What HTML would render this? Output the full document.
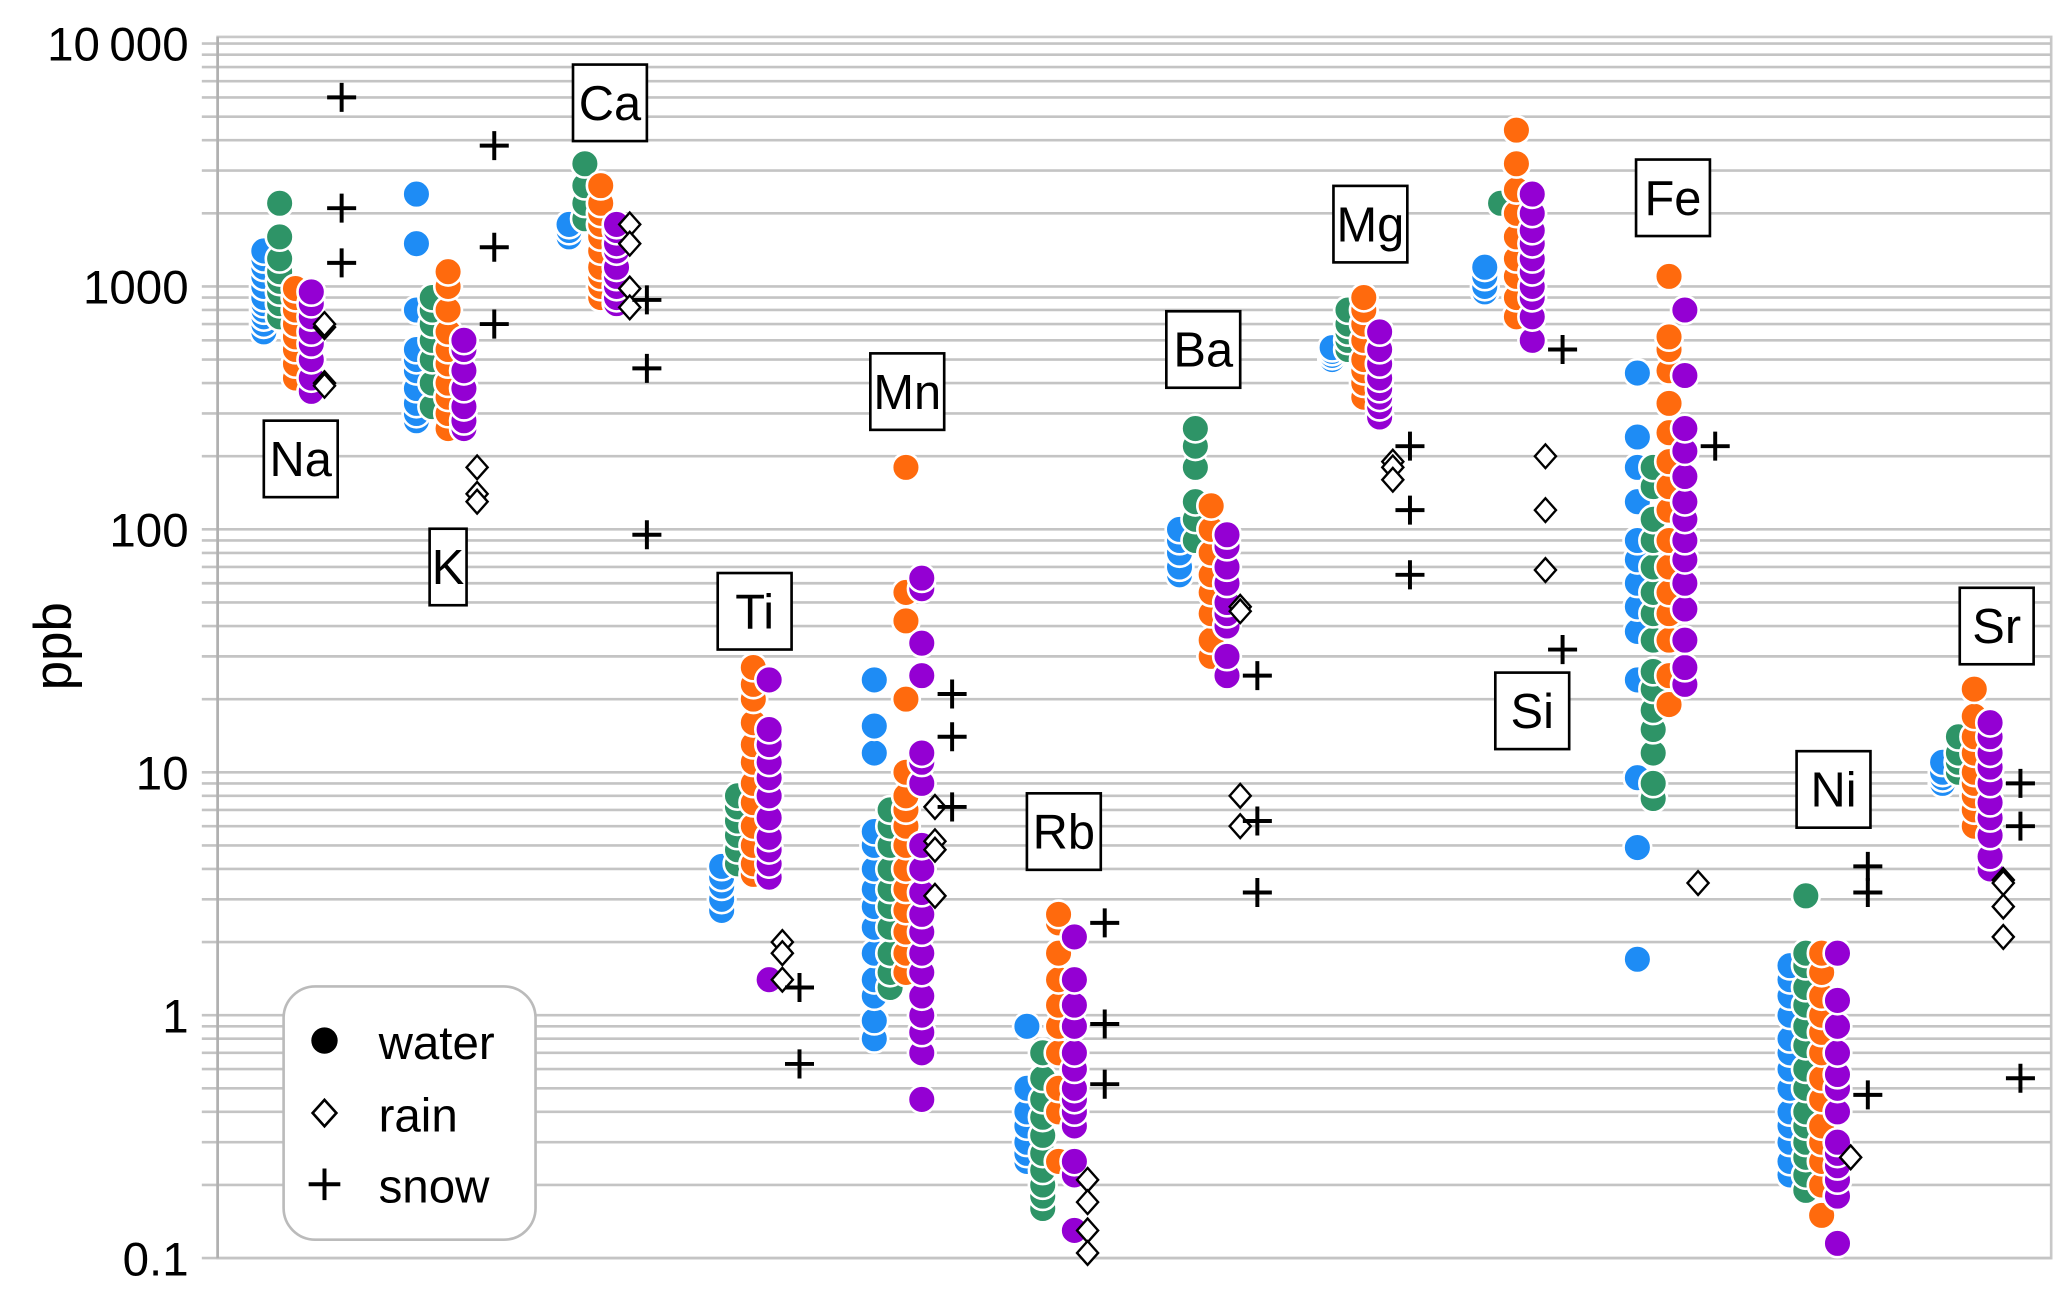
<!DOCTYPE html>
<html><head><meta charset="utf-8"><style>
html,body{margin:0;padding:0;background:#fff;}
svg{display:block;font-family:"Liberation Sans",sans-serif;}
</style></head><body>
<svg id="chart" width="2067" height="1299" viewBox="0 0 1567 985" preserveAspectRatio="none" xmlns="http://www.w3.org/2000/svg">
<g id="grid"></g>
<g id="ticks"></g>
<g id="marks"></g>
<g id="labels"></g>
<text x="0" y="0" transform="translate(54,490) rotate(-90)" font-size="40" text-anchor="middle">ppb</text>
<g>
<rect x="215" y="748" width="191" height="192" rx="24" fill="#fff" stroke="#bbb" stroke-width="2"/>
<circle cx="246" cy="789" r="10" fill="#000"/>
<text x="287" y="803" font-size="36">water</text>
<path d="M246 834 L255 844 L246 854 L237 844 Z" fill="#fff" stroke="#000" stroke-width="2"/>
<text x="287" y="858" font-size="36">rain</text>
<path d="M234 898 H258 M246 886 V910" stroke="#000" stroke-width="3"/>
<text x="287" y="912" font-size="36">snow</text>
</g>
</svg>
<script>
const elements = ["Na","K","Ca","Ti","Mn","Rb","Ba","Mg","Si","Fe","Ni","Sr"];
const blue = [
[650,700,750,800,850,900,1000,1100,1200,1300,1400],
[280,300,330,380,450,500,550,800,1500,2400],
[1600,1700,1800],
[2.7,3.0,3.4,3.7,4.1],
[0.8,0.95,1.2,1.4,1.8,2.3,2.8,3.3,4,5,5.7,12,15.5,24],
[0.25,0.27,0.3,0.35,0.4,0.5,0.9],
[65,70,80,90,100],
[500,520,540,560],
[950,1000,1100,1200],
[1.7,4.9,9.5,24,38,48,60,75,90,130,180,240,440],
[0.22,0.25,0.3,0.35,0.4,0.5,0.6,0.7,0.8,1,1.2,1.4,1.6],
[9,9.5,10,11]];
const green = [
[750,850,950,1050,1150,1300,1600,2200],
[320,400,500,600,700,800,900],
[1900,2200,2600,3200],
[4.2,4.8,5.5,6.3,7.2,8],
[1.3,1.5,1.8,2.3,2.8,3.3,4,5,6,7],
[0.16,0.18,0.2,0.23,0.27,0.32,0.38,0.45,0.55,0.7],
[90,110,130,180,220,260],
[550,600,650,700,800],
[2200],
[7.8,9,12,15,18,22,26,35,45,55,70,90,110,150,180],
[0.19,0.22,0.26,0.3,0.35,0.4,0.5,0.6,0.75,0.9,1.1,1.3,1.6,1.8,3.1],
[10,11,12,14]];
const orange = [
[420,480,550,620,700,800,900,980],
[260,300,350,400,480,550,650,800,1000,1150],
[900,1000,1100,1200,1400,1600,1800,2000,2200,2600],
[3.8,4.2,5,6,7.5,9,11,13,16,20,23,27],
[1.5,1.8,2.2,2.7,3.3,4,5,6,7,8,10,20,42,55,180],
[0.25,0.4,0.5,0.7,0.9,1.1,1.4,1.8,2.4,2.6],
[30,35,45,55,65,80,100,125],
[350,400,450,500,600,700,800,900],
[750,900,1100,1300,1600,2000,2500,3200,4400],
[19,25,35,45,55,70,90,120,150,190,250,330,450,550,620,1100],
[0.15,0.2,0.25,0.3,0.35,0.45,0.55,0.7,0.85,1,1.2,1.5,1.8],
[6,7,8,9,10,12,14,17,22]];
const purple = [
[370,420,500,580,650,750,850,950],
[260,280,320,380,450,550,600],
[850,900,1000,1100,1200,1400,1500,1700,1800],
[1.4,3.7,4.2,4.8,5.4,6.5,8,9.5,11,13,15,24],
[0.45,0.7,0.85,1.0,1.2,1.5,1.8,2.2,2.6,3.2,4,5,9,11,12,25,34,57,63],
[0.13,0.22,0.25,0.35,0.4,0.45,0.5,0.6,0.7,0.9,1.1,1.4,2.1],
[25,30,40,45,50,60,70,85,95],
[290,320,350,380,420,480,550,650],
[600,750,900,1000,1150,1300,1500,1700,2000,2400],
[23,27,35,47,60,75,90,110,130,165,210,260,430,800],
[0.115,0.18,0.21,0.24,0.27,0.3,0.4,0.5,0.57,0.7,0.9,1.15,1.8],
[4,4.5,5.5,6.5,7.5,9,10.5,12,14,16]];
const rain = [
[680,700,400,390],[180,140,130],[1800,1500,980,820],[2.0,1.8,1.4],[7.2,5.2,4.8,3.1],
[0.21,0.17,0.13,0.105],[48,46,8,6],[190,180,160],[200,120,68],[3.5],[0.26],[3.6,3.5,2.8,2.1]];
const snow = [
[6000,2100,1250],[3800,1450,700],[880,460,95],[1.3,0.63],[21,14,7.2],[2.4,0.92,0.52],
[25,6.3,3.2],[220,120,65],[550,32],[220],[4.1,3.2,0.47],[9,6,0.55]];
const labelValues = [195,70,5700,46,369,5.7,550,1805,17.9,2317,8.5,40];
const tickValues = [0.1,1,10,100,1000,10000];
const tickLabels = ["0.1","1","10","100","1000","10\u2009000"];
const labelDx = [28,24,31,25,25,28,18,29,36,27,33,41];

const NS="http://www.w3.org/2000/svg";
const y = v => 954 - (Math.log10(v)+1)*184.2;
const xg = i => 200 + i*115.7;
function mk(tag, attrs, parent){const e=document.createElementNS(NS,tag);for(const k in attrs)e.setAttribute(k,attrs[k]);parent.appendChild(e);return e;}
const grid=document.getElementById('grid'), ticks=document.getElementById('ticks'), marks=document.getElementById('marks'), labels=document.getElementById('labels');
mk('rect',{x:165,y:28,width:1390,height:926,fill:'none',stroke:'#c8c8c8','stroke-width':2},grid);
for(let d=-1; d<4; d++){
  for(let m=1;m<10;m++){
    const v=m*Math.pow(10,d);
    const l=mk('line',{x1:153,x2:1555,y1:y(v),y2:y(v),stroke:'#c4c4c4','stroke-width':2},grid);
    
    
  }
}
mk('line',{x1:153,x2:1555,y1:y(10000),y2:y(10000),stroke:'#c4c4c4','stroke-width':2},grid);
mk('line',{x1:165,x2:165,y1:28,y2:954,stroke:'#b0b0b0','stroke-width':2},grid);
tickValues.forEach((v,i)=>{
  const t=mk('text',{x:143,y:y(v)+13,'font-size':36,'text-anchor':'end'},ticks);
  t.textContent=tickLabels[i];
  
  
});
const series=[[blue,'#1e8cf5',0],[green,'#2e9467',12],[orange,'#ff6a0d',24],[purple,'#9400d3',36]];
elements.forEach((el,i)=>{
  const g=mk('g',{},marks);
  
  
  series.forEach(([arr,col,off])=>{
    arr[i].forEach(v=>{
      const c=mk('circle',{cx:xg(i)+off,cy:y(v),r:10.5,fill:col,stroke:'#fff','stroke-width':2},g);
      
      
    });
  });
  rain[i].forEach(v=>{
    const cx=xg(i)+46, cy=y(v);
    const p=mk('path',{d:`M${cx} ${cy-9} L${cx+8} ${cy} L${cx} ${cy+9} L${cx-8} ${cy} Z`,fill:'#fff',stroke:'#000','stroke-width':1.8},g);
    
    
  });
  snow[i].forEach(v=>{
    const cx=xg(i)+59, cy=y(v);
    const p=mk('path',{d:`M${cx-11} ${cy} H${cx+11} M${cx} ${cy-11} V${cy+11}`,stroke:'#000','stroke-width':3},g);
    
    
  });
  const lg=mk('g',{},labels);
  
  
  const w = el.length>1?56:28, cx=xg(i)+labelDx[i], cy=y(labelValues[i]);
  mk('rect',{x:cx-w/2,y:cy-29,width:w,height:58,fill:'#fff',stroke:'#000','stroke-width':2},lg);
  const t=mk('text',{x:cx,y:cy+13,'font-size':37,'text-anchor':'middle'},lg);
  t.textContent=el;
});
</script>
</body></html>
